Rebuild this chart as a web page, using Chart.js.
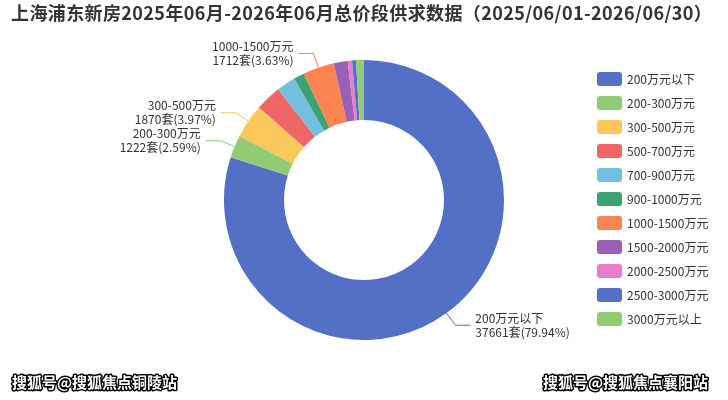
<!DOCTYPE html>
<html><head><meta charset="utf-8">
<script src="https://cdn.jsdelivr.net/npm/chart.js@4/dist/chart.umd.min.js"></script>
<style>html,body{margin:0;padding:0;background:#fff}#c{display:block}</style>
</head><body>
<canvas id="c" width="728" height="400"></canvas>
<script>
const titleText = '上海浦东新房2025年06月-2026年06月总价段供求数据（2025/06/01-2026/06/30）';
const categories = ['200万元以下','200-300万元','300-500万元','500-700万元','700-900万元','900-1000万元','1000-1500万元','1500-2000万元','2000-2500万元','2500-3000万元','3000万元以上'];
const counts = [37661,1222,1870,1413,1036,565,1712,754,236,212,430];
const colors = ['#5470c6','#91cc75','#fac858','#ee6666','#73c0de','#3ba272','#fc8452','#9a60b4','#ea7ccc','#5470c6','#91cc75'];
const labeledIdx = [0,1,2,6];
const watermarks = ['搜狐号@搜狐焦点铜陵站','搜狐号@搜狐焦点襄阳站'];

const FONT = '"Noto Sans CJK SC","Noto Sans",sans-serif';
const total = counts.reduce((a,b)=>a+b,0);

const overlay = {
  id:'overlay',
  afterDatasetsDraw(chart){
    const ctx = chart.ctx;
    const meta = chart.getDatasetMeta(0);
    ctx.save();
    labeledIdx.forEach(i=>{
      const arc = meta.data[i];
      const p = arc.getProps(['x','y','startAngle','endAngle','outerRadius'], true);
      const mid = (p.startAngle+p.endAngle)/2;
      const c = Math.cos(mid), s = Math.sin(mid);
      const x0 = p.x + c*p.outerRadius, y0 = p.y + s*p.outerRadius;
      const x1 = p.x + c*(p.outerRadius+15), y1 = p.y + s*(p.outerRadius+15);
      const dir = c >= 0 ? 1 : -1;
      const x2 = x1 + dir*15;
      ctx.strokeStyle = colors[i];
      ctx.lineWidth = 1;
      ctx.beginPath(); ctx.moveTo(x0,y0); ctx.lineTo(x1,y1); ctx.lineTo(x2,y1); ctx.stroke();
      ctx.fillStyle = '#333';
      ctx.font = '12px '+FONT;
      ctx.textAlign = dir>0 ? 'left' : 'right';
      ctx.textBaseline = 'middle';
      const tx = x2 + dir*5;
      const pct = (counts[i]/total*100).toFixed(2);
      ctx.fillText(categories[i], tx, y1-7);
      ctx.fillText(counts[i]+'套('+pct+'%)', tx, y1+7);
    });
    ctx.restore();
  },
  afterDraw(chart){
    const ctx = chart.ctx;
    ctx.save();
    // title
    ctx.fillStyle = '#333';
    ctx.font = 'bold 18px '+FONT;
    ctx.textAlign = 'left'; ctx.textBaseline = 'middle';
    const w = ctx.measureText(titleText).width;
    const target = 701;
    if (w < target && 'letterSpacing' in ctx) {
      ctx.letterSpacing = ((target - w) / titleText.length).toFixed(2) + 'px';
    }
    ctx.fillText(titleText, 11, 13);
    ctx.letterSpacing = '0px';
    // legend
    ctx.font = '12px '+FONT;
    categories.forEach((name,i)=>{
      const y = 79 + 24*i;
      ctx.fillStyle = colors[i];
      ctx.beginPath(); ctx.roundRect(597, y-7, 25, 14, 3); ctx.fill();
      ctx.fillStyle = '#333';
      ctx.fillText(name, 627, y);
    });
    // watermarks
    ctx.font = 'bold 15px '+FONT;
    ctx.lineJoin = 'round';
    [[12,382],[543,382]].forEach((pos,k)=>{
      ctx.strokeStyle = '#000'; ctx.lineWidth = 3;
      ctx.strokeText(watermarks[k], pos[0], pos[1]);
      ctx.fillStyle = '#fff';
      ctx.fillText(watermarks[k], pos[0], pos[1]);
    });
    ctx.restore();
  }
};

new Chart(document.getElementById('c'), {
  type:'doughnut',
  data:{labels:categories, datasets:[{data:counts, backgroundColor:colors, borderWidth:0, hoverOffset:0}]},
  options:{
    responsive:false, devicePixelRatio:1, animation:false,
    cutout:80,
    layout:{padding:{top:60,bottom:60,left:150,right:150}},
    plugins:{legend:{display:false}, tooltip:{enabled:false}, title:{display:false}}
  },
  plugins:[overlay]
});
</script>
</body></html>
